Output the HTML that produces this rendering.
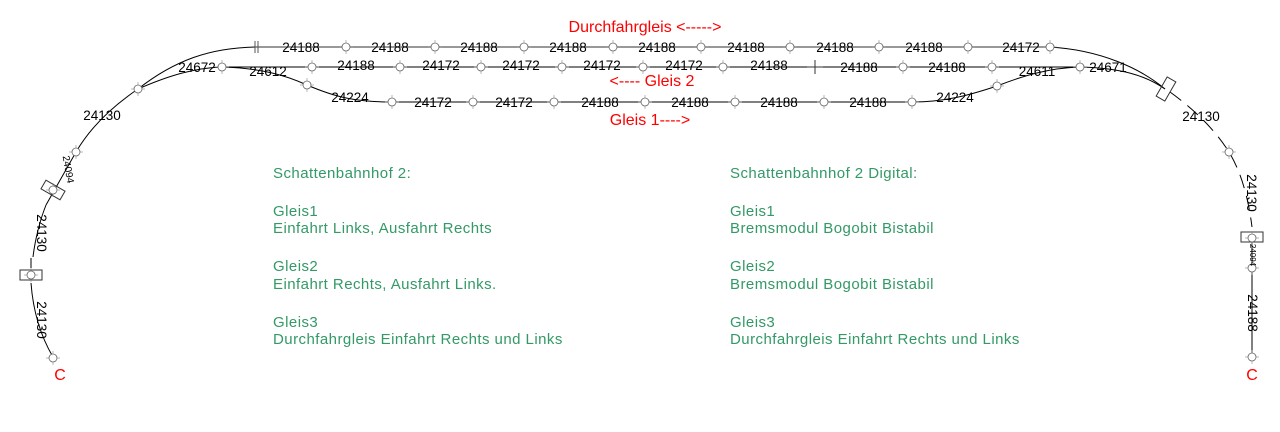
<!DOCTYPE html>
<html><head><meta charset="utf-8"><style>
html,body{margin:0;padding:0;background:#fff;width:1280px;height:432px;overflow:hidden}
svg{display:block}
.l{font:13.5px "Liberation Sans",sans-serif;fill:#000;text-anchor:middle}
.r{font:16px "Liberation Sans",sans-serif;fill:#f00;text-anchor:middle}
.g{font:15px "Liberation Sans",sans-serif;fill:#339966;letter-spacing:0.45px}
</style></head><body>
<svg width="1280" height="432" viewBox="0 0 1280 432" xmlns="http://www.w3.org/2000/svg">
<defs>
<g id="n"><line x1="-7" y1="0" x2="7" y2="0" stroke="#888" stroke-width="0.6"/><line x1="0" y1="-7" x2="0" y2="7" stroke="#888" stroke-width="0.6"/><circle r="4" fill="#fff" stroke="#666" stroke-width="0.8"/></g>
</defs>
<g fill="none">
<path d="M255 47 H1050" stroke="#777" stroke-width="1.6"/>
<path d="M138 89 C175 60 210 48 255 47" stroke="#000" stroke-width="1"/>
<path d="M1050 47 C1100 50 1140 68 1165 89" stroke="#000" stroke-width="1"/>
<line x1="255" y1="41" x2="255" y2="53" stroke="#555"/><line x1="258" y1="41" x2="258" y2="53" stroke="#555"/>
<path d="M222 67 H1080" stroke="#000" stroke-width="1"/>
<path d="M138 89 C170 75 195 68 222 67" stroke="#000"/>
<path d="M1080 67 C1120 68 1145 75 1165 89" stroke="#000"/>
<path d="M807 67 H823 M815 60 V74" stroke="#333"/>
<path d="M222 67 C260 68 285 75 307 85 C335 97 355 102 392 102 H912 C945 102 970 95 997 86 C1025 75 1050 68 1080 67" stroke="#000"/>
<path d="M138 89 C110 108 90 128 76 152 L46 205" stroke="#000"/>
<path d="M46 205 C40 220 35 240 33 257" stroke="#000"/>
<path d="M31 283 C33 310 40 335 53 357" stroke="#000"/>
<line x1="31" y1="258" x2="31" y2="268" stroke="#000"/>
<path d="M1170 92 C1195 110 1215 130 1229 152 C1240 170 1248 195 1252 227" stroke="#000" stroke-dasharray="14 8"/>
<path d="M1252 242 V357" stroke="#000"/>
</g>
<rect x="-11" y="-5" width="22" height="10" fill="none" stroke="#333" transform="translate(53,190) rotate(30)"/>
<rect x="-11" y="-5" width="22" height="10" fill="none" stroke="#333" transform="translate(31,275)"/>
<rect x="-11" y="-5" width="22" height="10" fill="none" stroke="#333" transform="translate(1166,89) rotate(-60)"/>
<rect x="-11" y="-5" width="22" height="10" fill="none" stroke="#333" transform="translate(1252,237)"/>
<use href="#n" x="346" y="47"/><use href="#n" x="435" y="47"/><use href="#n" x="524" y="47"/><use href="#n" x="613" y="47"/><use href="#n" x="701" y="47"/><use href="#n" x="790" y="47"/><use href="#n" x="879" y="47"/><use href="#n" x="968" y="47"/><use href="#n" x="1050" y="47"/>
<use href="#n" x="222" y="67"/><use href="#n" x="312" y="67"/><use href="#n" x="400" y="67"/><use href="#n" x="481" y="67"/><use href="#n" x="562" y="67"/><use href="#n" x="643" y="67"/><use href="#n" x="723" y="67"/><use href="#n" x="903" y="67"/><use href="#n" x="992" y="67"/><use href="#n" x="1080" y="67"/>
<use href="#n" x="307" y="85"/><use href="#n" x="392" y="102"/><use href="#n" x="473" y="102"/><use href="#n" x="554" y="102"/><use href="#n" x="645" y="102"/><use href="#n" x="735" y="102"/><use href="#n" x="824" y="102"/><use href="#n" x="912" y="102"/><use href="#n" x="997" y="86"/>
<use href="#n" x="138" y="89"/><use href="#n" x="76" y="152"/><use href="#n" x="53" y="190"/><use href="#n" x="31" y="275"/><use href="#n" x="53" y="358"/>
<use href="#n" x="1229" y="152"/><use href="#n" x="1252" y="238"/><use href="#n" x="1252" y="268"/><use href="#n" x="1252" y="357"/>
<text class="l" x="301" y="52">24188</text><text class="l" x="390" y="52">24188</text><text class="l" x="479" y="52">24188</text><text class="l" x="568" y="52">24188</text><text class="l" x="657" y="52">24188</text><text class="l" x="746" y="52">24188</text><text class="l" x="835" y="52">24188</text><text class="l" x="924" y="52">24188</text><text class="l" x="1021" y="52">24172</text>
<text class="l" x="197" y="72">24672</text><text class="l" x="268" y="76">24612</text><text class="l" x="356" y="70">24188</text><text class="l" x="441" y="70">24172</text><text class="l" x="521" y="70">24172</text><text class="l" x="602" y="70">24172</text><text class="l" x="684" y="70">24172</text><text class="l" x="769" y="70">24188</text><text class="l" x="859" y="72">24188</text><text class="l" x="947" y="72">24188</text><text class="l" x="1037" y="76">24611</text><text class="l" x="1108" y="72">24671</text>
<text class="l" x="350" y="102">24224</text><text class="l" x="433" y="107">24172</text><text class="l" x="514" y="107">24172</text><text class="l" x="600" y="107">24188</text><text class="l" x="690" y="107">24188</text><text class="l" x="779" y="107">24188</text><text class="l" x="868" y="107">24188</text><text class="l" x="955" y="102">24224</text>
<text class="l" x="102" y="120">24130</text>
<text class="l" x="1201" y="121">24130</text>
<text class="l" transform="translate(65,170) rotate(80)" style="font-size:10px">24094</text>
<text class="l" transform="translate(37,233) rotate(90)">24130</text>
<text class="l" transform="translate(37,320) rotate(90)">24130</text>
<text class="l" transform="translate(1247,193) rotate(90)">24130</text>
<text class="l" transform="translate(1250,255) rotate(90)" style="font-size:8px">24094</text>
<text class="l" transform="translate(1248,313) rotate(90)">24188</text>
<text class="r" x="645" y="32">Durchfahrgleis &lt;-----&gt;</text>
<text class="r" x="652" y="86">&lt;---- Gleis 2</text>
<text class="r" x="650" y="125">Gleis 1----&gt;</text>
<text class="r" x="60" y="380">C</text>
<text class="r" x="1252" y="380">C</text>
<text class="g" x="273" y="178">Schattenbahnhof 2:</text>
<text class="g" x="273" y="216">Gleis1</text>
<text class="g" x="273" y="233">Einfahrt Links, Ausfahrt Rechts</text>
<text class="g" x="273" y="271">Gleis2</text>
<text class="g" x="273" y="289">Einfahrt Rechts, Ausfahrt Links.</text>
<text class="g" x="273" y="327">Gleis3</text>
<text class="g" x="273" y="344">Durchfahrgleis Einfahrt Rechts und Links</text>
<text class="g" x="730" y="178">Schattenbahnhof 2 Digital:</text>
<text class="g" x="730" y="216">Gleis1</text>
<text class="g" x="730" y="233">Bremsmodul Bogobit Bistabil</text>
<text class="g" x="730" y="271">Gleis2</text>
<text class="g" x="730" y="289">Bremsmodul Bogobit Bistabil</text>
<text class="g" x="730" y="327">Gleis3</text>
<text class="g" x="730" y="344">Durchfahrgleis Einfahrt Rechts und Links</text>
</svg>
</body></html>
